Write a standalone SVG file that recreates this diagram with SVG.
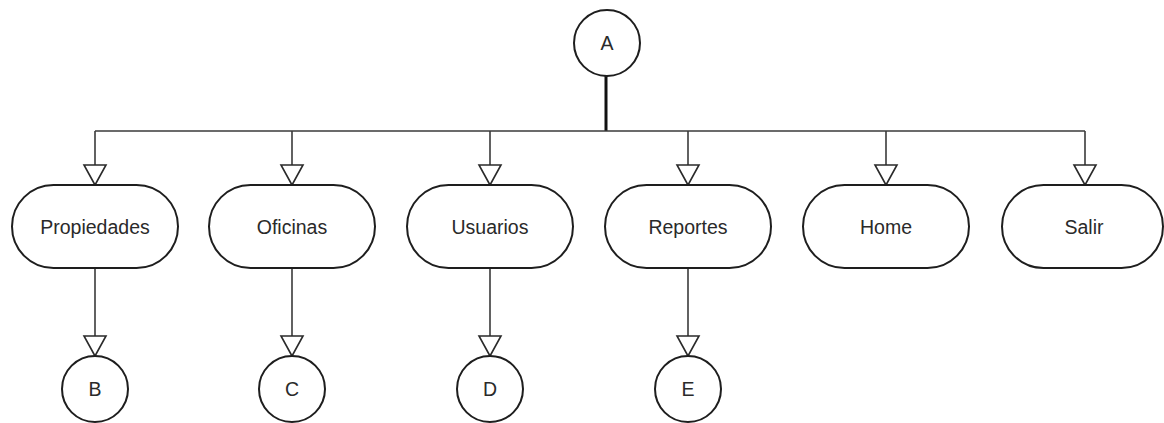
<svg xmlns="http://www.w3.org/2000/svg" width="1164" height="423" viewBox="0 0 1164 423">
  <defs>
    <style>
      .node { fill: #ffffff; stroke: #1e1e1e; stroke-width: 2; }
      .label { font-family: "Liberation Sans", Arial, sans-serif; font-size: 19.5px; fill: #2a2a2a; text-anchor: middle; dominant-baseline: central; }
      .edge { fill: none; stroke: #3a3a3a; stroke-width: 1.6; }
      .trunk { fill: none; stroke: #111111; stroke-width: 3; }
      .head { fill: #ffffff; stroke: #2a2a2a; stroke-width: 1.6; stroke-linejoin: miter; }
    </style>
    <!-- open triangular arrowhead, tip at (0,0), pointing down -->
    <path id="tri" d="M -11 -20 L 11 -20 L 0 0 Z"/>
  </defs>

  <rect width="1164" height="423" fill="#ffffff"/>

  <g id="connectors">
    <line class="trunk" x1="606" y1="76" x2="606" y2="131"/>
    <line class="edge" x1="95" y1="131" x2="1085" y2="131"/>
    <line class="edge" x1="95" y1="131" x2="95" y2="165"/>
    <line class="edge" x1="292" y1="131" x2="292" y2="165"/>
    <line class="edge" x1="490" y1="131" x2="490" y2="165"/>
    <line class="edge" x1="688" y1="131" x2="688" y2="165"/>
    <line class="edge" x1="886" y1="131" x2="886" y2="165"/>
    <line class="edge" x1="1085" y1="131" x2="1085" y2="165"/>
    <use href="#tri" class="head" x="95" y="185"/>
    <use href="#tri" class="head" x="292" y="185"/>
    <use href="#tri" class="head" x="490" y="185"/>
    <use href="#tri" class="head" x="688" y="185"/>
    <use href="#tri" class="head" x="886" y="185"/>
    <use href="#tri" class="head" x="1085" y="185"/>
    <line class="edge" x1="95" y1="268" x2="95" y2="336"/>
    <line class="edge" x1="292" y1="268" x2="292" y2="336"/>
    <line class="edge" x1="490" y1="268" x2="490" y2="336"/>
    <line class="edge" x1="688" y1="268" x2="688" y2="336"/>
    <use href="#tri" class="head" x="95" y="356"/>
    <use href="#tri" class="head" x="292" y="356"/>
    <use href="#tri" class="head" x="490" y="356"/>
    <use href="#tri" class="head" x="688" y="356"/>
  </g>

  <g id="node-a">
    <circle class="node" cx="607" cy="43" r="33"/>
    <text class="label" x="607" y="43">A</text>
  </g>

  <g id="node-propiedades">
    <rect class="node" x="12" y="185" width="166" height="83" rx="41.5"/>
    <text class="label" x="95" y="227">Propiedades</text>
  </g>
  <g id="node-oficinas">
    <rect class="node" x="209" y="185" width="166" height="83" rx="41.5"/>
    <text class="label" x="292" y="227">Oficinas</text>
  </g>
  <g id="node-usuarios">
    <rect class="node" x="407" y="185" width="166" height="83" rx="41.5"/>
    <text class="label" x="490" y="227">Usuarios</text>
  </g>
  <g id="node-reportes">
    <rect class="node" x="605" y="185" width="166" height="83" rx="41.5"/>
    <text class="label" x="688" y="227">Reportes</text>
  </g>
  <g id="node-home">
    <rect class="node" x="803" y="185" width="166" height="83" rx="41.5"/>
    <text class="label" x="886" y="227">Home</text>
  </g>
  <g id="node-salir">
    <rect class="node" x="1002" y="185" width="161" height="83" rx="41.5"/>
    <text class="label" x="1084" y="227">Salir</text>
  </g>

  <g id="node-b">
    <circle class="node" cx="95" cy="389" r="33"/>
    <text class="label" x="95" y="389">B</text>
  </g>
  <g id="node-c">
    <circle class="node" cx="292" cy="389" r="33"/>
    <text class="label" x="292" y="389">C</text>
  </g>
  <g id="node-d">
    <circle class="node" cx="490" cy="389" r="33"/>
    <text class="label" x="490" y="389">D</text>
  </g>
  <g id="node-e">
    <circle class="node" cx="688" cy="389" r="33"/>
    <text class="label" x="688" y="389">E</text>
  </g>
</svg>
